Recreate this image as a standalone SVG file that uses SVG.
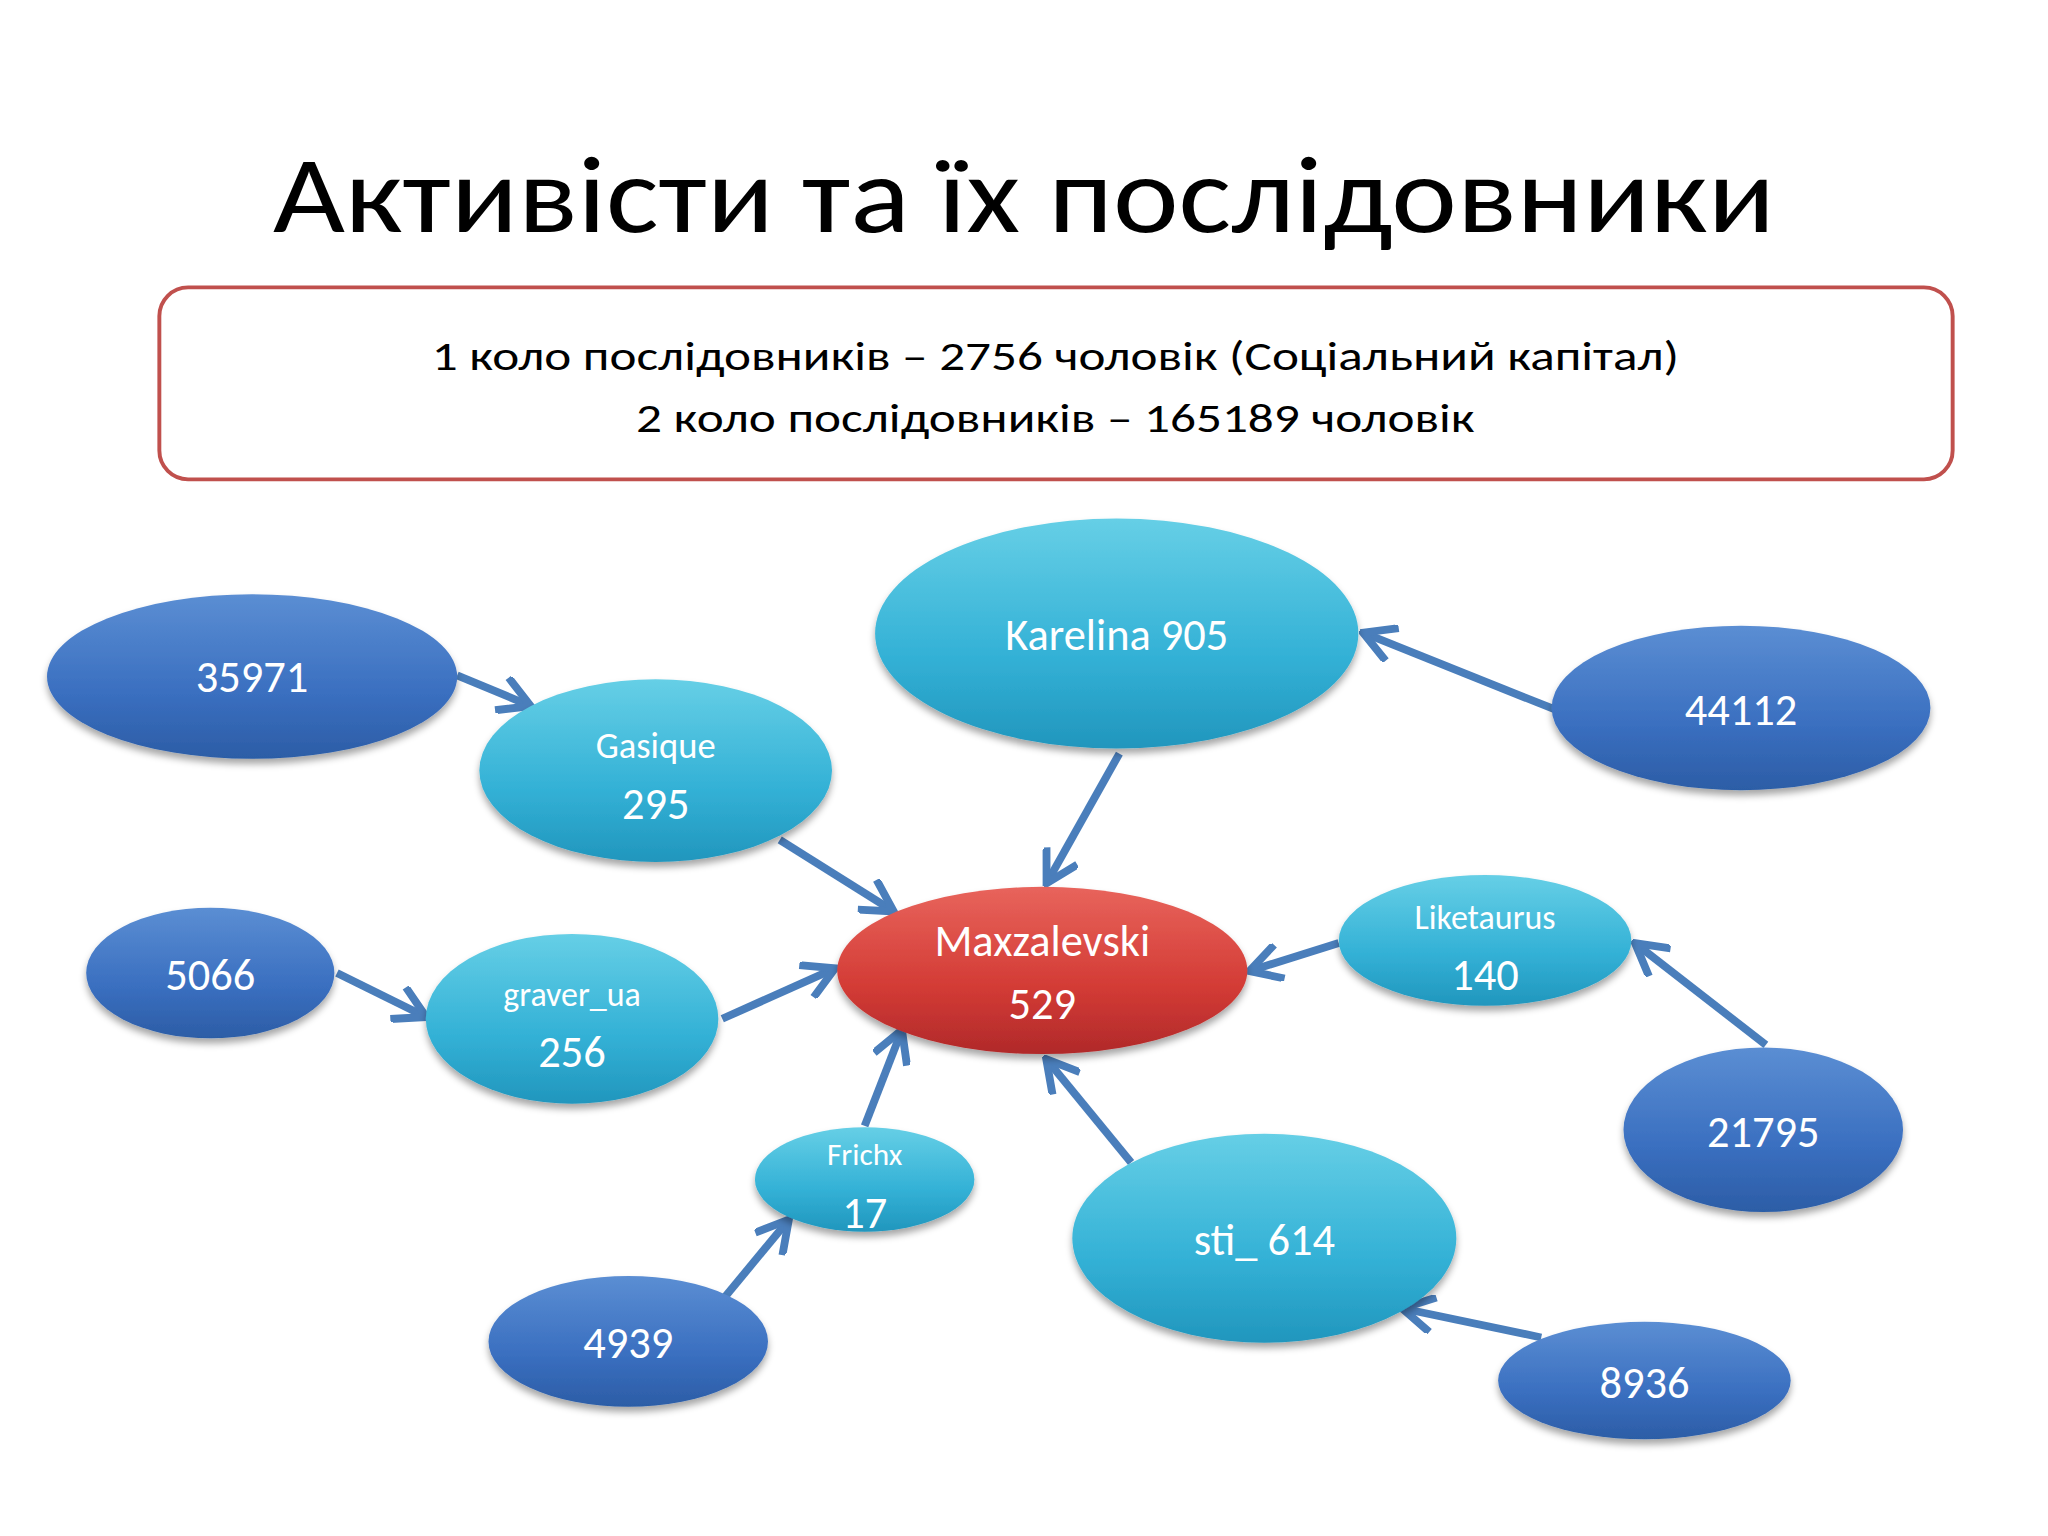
<svg xmlns="http://www.w3.org/2000/svg" width="2048" height="1536" viewBox="0 0 2048 1536">
<defs>
<style>
.t{font-family:Calibri,"Open Sans","Liberation Sans",sans-serif;fill:#fff;text-anchor:middle}
.c line{stroke:#4a7ebb;stroke-width:6;marker-end:url(#ah)}
.dk{fill:url(#gd)}.cy{fill:url(#gc)}.rd{fill:url(#gr)}
ellipse{filter:url(#sh)}
</style>
<marker id="ah" viewBox="0 0 10 10" refX="8.5" refY="5" markerWidth="5" markerHeight="5" orient="auto" markerUnits="strokeWidth"><path d="M1,0.5 L9,5 L1,9.5" fill="none" stroke="#4a7ebb" stroke-width="2"/></marker>
<linearGradient id="gd" x1="0" y1="0" x2="0" y2="1"><stop offset="0" stop-color="#5b8ed3"/><stop offset="0.6" stop-color="#3a6fc0"/><stop offset="1" stop-color="#2c5da6"/></linearGradient>
<linearGradient id="gc" x1="0" y1="0" x2="0" y2="1"><stop offset="0" stop-color="#66cfe6"/><stop offset="0.6" stop-color="#33b1d6"/><stop offset="1" stop-color="#2196bd"/></linearGradient>
<linearGradient id="gr" x1="0" y1="0" x2="0" y2="1"><stop offset="0" stop-color="#e8645c"/><stop offset="0.6" stop-color="#d33b35"/><stop offset="1" stop-color="#b0292a"/></linearGradient>
<filter id="sh" x="-20%" y="-20%" width="140%" height="150%"><feDropShadow dx="0" dy="4" stdDeviation="3" flood-color="#000" flood-opacity="0.35"/></filter>
</defs>
<rect width="2048" height="1536" fill="#fff"/>
<g transform="scale(1.30612)">
<text x="784" y="178" font-family="Calibri,'Open Sans','Liberation Sans',sans-serif" font-size="84" text-anchor="middle" fill="#000" textLength="1150" lengthAdjust="spacingAndGlyphs">Активісти та їх послідовники</text>
<g id="info">
<rect x="122" y="220" width="1373" height="147" rx="22" fill="#fff" stroke="#c0504d" stroke-width="3"/>
<text x="808" y="283" font-family="Calibri,'Open Sans','Liberation Sans',sans-serif" font-size="32" text-anchor="middle" textLength="955" lengthAdjust="spacingAndGlyphs">1 коло послідовників – 2756 чоловік (Соціальний капітал)</text>
<text x="808" y="331" font-family="Calibri,'Open Sans','Liberation Sans',sans-serif" font-size="32" text-anchor="middle" textLength="642" lengthAdjust="spacingAndGlyphs">2 коло послідовників – 165189 чоловік</text>
</g>
<g class="c" id="connectors">
<line x1="350" y1="517" x2="405" y2="540"/>
<line x1="597" y1="643" x2="683" y2="697"/>
<line x1="857" y1="577" x2="802" y2="675"/>
<line x1="1190" y1="543" x2="1045" y2="485"/>
<line x1="258" y1="745" x2="325" y2="778"/>
<line x1="553" y1="780" x2="638" y2="742"/>
<line x1="1025" y1="722" x2="958" y2="743"/>
<line x1="1352" y1="800" x2="1253" y2="723"/>
<line x1="662" y1="862" x2="690" y2="790"/>
<line x1="555" y1="993" x2="603" y2="935"/>
<line x1="866" y1="890" x2="802" y2="812"/>
<line x1="1180" y1="1024" x2="1075" y2="1002"/>
</g>
<g id="n35971"><ellipse class="dk" cx="193" cy="518" rx="157" ry="63"/><text class="t" x="193" y="530" font-size="34">35971</text></g>
<g id="gasique"><ellipse class="cy" cx="502" cy="590" rx="135" ry="70"/><text class="t" x="502" y="580" font-size="28">Gasique</text><text class="t" x="502" y="627" font-size="34">295</text></g>
<g id="karelina"><ellipse class="cy" cx="855" cy="485" rx="185" ry="88"/><text class="t" x="855" y="498" font-size="34">Karelina 905</text></g>
<g id="n44112"><ellipse class="dk" cx="1333" cy="542" rx="145" ry="63"/><text class="t" x="1333" y="555" font-size="34">44112</text></g>
<g id="maxzalevski"><ellipse class="rd" cx="798" cy="743" rx="157" ry="64"/><text class="t" x="798" y="732" font-size="34">Maxzalevski</text><text class="t" x="798" y="780" font-size="34">529</text></g>
<g id="n5066"><ellipse class="dk" cx="161" cy="745" rx="95" ry="50"/><text class="t" x="161" y="758" font-size="34">5066</text></g>
<g id="graver"><ellipse class="cy" cx="438" cy="780" rx="112" ry="65"/><text class="t" x="438" y="770" font-size="26">graver_ua</text><text class="t" x="438" y="817" font-size="34">256</text></g>
<g id="liketaurus"><ellipse class="cy" cx="1137" cy="720" rx="112" ry="50"/><text class="t" x="1137" y="711" font-size="26">Liketaurus</text><text class="t" x="1137" y="758" font-size="34">140</text></g>
<g id="n21795"><ellipse class="dk" cx="1350" cy="865" rx="107" ry="63"/><text class="t" x="1350" y="878" font-size="34">21795</text></g>
<g id="frichx"><ellipse class="cy" cx="662" cy="903" rx="84" ry="40"/><text class="t" x="662" y="892" font-size="24">Frichx</text><text class="t" x="662" y="940" font-size="34">17</text></g>
<g id="sti"><ellipse class="cy" cx="968" cy="948" rx="147" ry="80"/><text class="t" x="968" y="961" font-size="34">sti_ 614</text></g>
<g id="n4939"><ellipse class="dk" cx="481" cy="1027" rx="107" ry="50"/><text class="t" x="481" y="1040" font-size="34">4939</text></g>
<g id="n8936"><ellipse class="dk" cx="1259" cy="1057" rx="112" ry="45"/><text class="t" x="1259" y="1070" font-size="34">8936</text></g>
</g>
</svg>
